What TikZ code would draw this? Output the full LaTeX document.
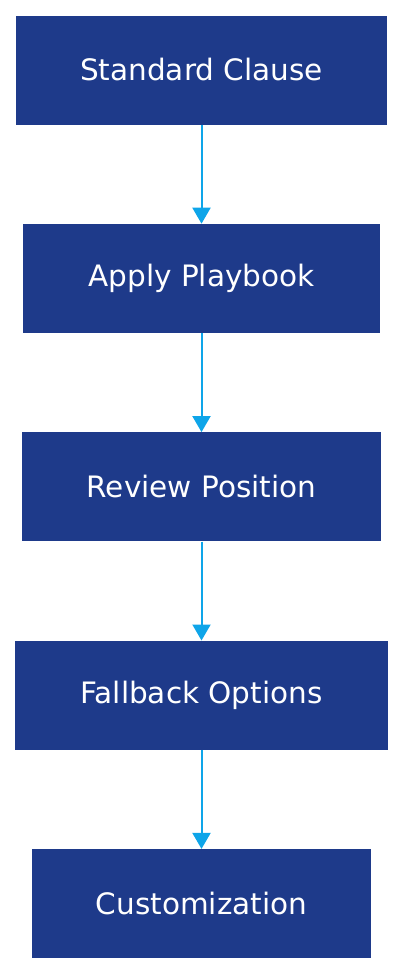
\documentclass[tikz,border=0pt]{standalone}
\usepackage{fontspec}
\setmainfont{DejaVu Sans}
\usetikzlibrary{positioning}
\usetikzlibrary{arrows.meta}
\definecolor{stepnavy}{HTML}{1E3A8A}
\definecolor{linkblue}{HTML}{0EA5E9}

\begin{document}
\begin{tikzpicture}[x=1pt,y=1pt,
  stepbox/.style={fill=stepnavy,text=white,minimum height=109pt,inner sep=0pt,font=\fontsize{29.5}{34}\selectfont},
  link/.style={draw=linkblue,line width=2pt,-{Triangle[width=18pt,length=16pt]}},
  node distance=99pt]
 \useasboundingbox (0,0) rectangle (404,-972);
 \node[stepbox,minimum width=371pt] (clause) at (201.5,-70) {Standard Clause};
 \node[stepbox,minimum width=357pt,below=of clause] (playbook) {Apply Playbook};
 \node[stepbox,minimum width=359pt,below=of playbook] (review) {Review Position};
 \node[stepbox,minimum width=373pt,below=of review] (fallback) {Fallback Options};
 \node[stepbox,minimum width=339pt,below=of fallback] (custom) {Customization};
 \draw[link] (clause) -- (playbook);
 \draw[link] (playbook) -- (review);
 \draw[link] (review) -- (fallback);
 \draw[link] (fallback) -- (custom);
\end{tikzpicture}
\end{document}
